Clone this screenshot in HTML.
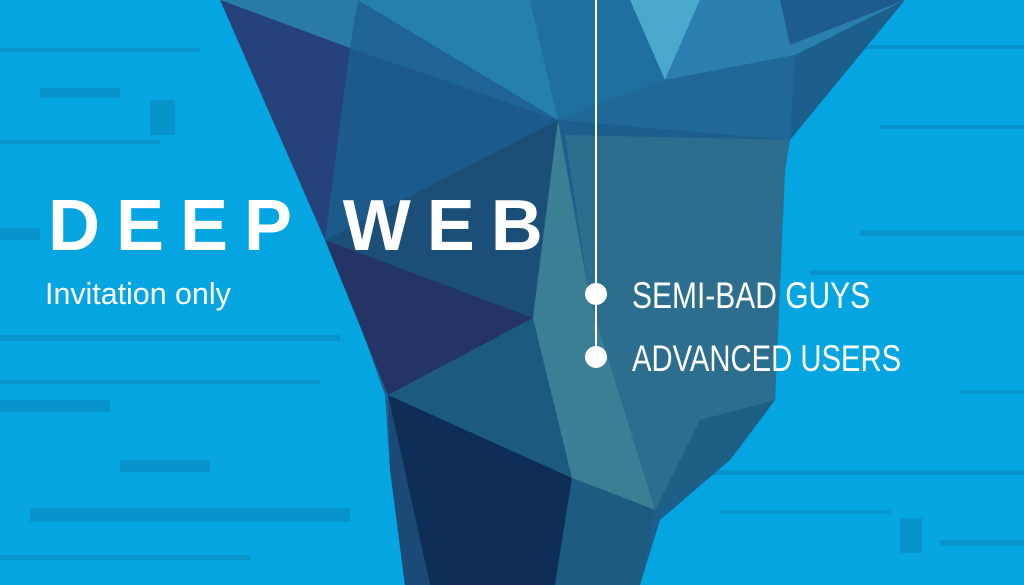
<!DOCTYPE html>
<html><head><style>
html,body{margin:0;padding:0}
body{width:1024px;height:585px;overflow:hidden;background:#05a5e2;position:relative;font-family:"Liberation Sans",sans-serif}
svg{position:absolute;left:0;top:0}
.t{position:absolute;color:#fff;white-space:nowrap;transform-origin:0 0}
</style></head><body>
<svg width="1024" height="585" viewBox="0 0 1024 585">
<g fill="#0a8fc8" opacity="0.8">
<rect x="0" y="48" width="200" height="4"/><rect x="40" y="88" width="80" height="10"/>
<rect x="150" y="100" width="25" height="35"/><rect x="0" y="140" width="160" height="4"/>
<rect x="0" y="228" width="40" height="12"/><rect x="0" y="335" width="340" height="6"/>
<rect x="0" y="380" width="320" height="4"/><rect x="0" y="400" width="110" height="12"/>
<rect x="120" y="460" width="90" height="12"/><rect x="30" y="508" width="320" height="14"/>
<rect x="0" y="555" width="250" height="5"/><rect x="800" y="45" width="224" height="4"/>
<rect x="880" y="125" width="144" height="4"/><rect x="860" y="230" width="164" height="6"/>
<rect x="810" y="270" width="214" height="5"/><rect x="960" y="390" width="64" height="4"/>
<rect x="700" y="470" width="324" height="5"/><rect x="900" y="518" width="22" height="35"/>
<rect x="720" y="510" width="170" height="4"/><rect x="940" y="540" width="84" height="6"/>
</g>
<polygon points="220,0 905,0 790,140 785,170 775,400 730,460 660,520 640,585 405,585 390,470 385,395 330,240" fill="#1d5f8c"/>
<polygon points="220,0 358,0 350,48" fill="#2a7aa8"/>
<polygon points="220,0 350,48 325,240" fill="#25427a"/>
<polygon points="350,48 558,120 325,240" fill="#1d5a8c"/>
<polygon points="358,0 558,120 350,48" fill="#1e6496"/>
<polygon points="358,0 530,0 558,120" fill="#2580b0"/>
<polygon points="530,0 640,0 665,80 558,120" fill="#1f6fa0"/>
<polygon points="630,0 700,0 665,80" fill="#4aa8cc"/>
<polygon points="700,0 905,0 795,55 665,80" fill="#2a7fb0"/>
<polygon points="780,0 905,0 790,45" fill="#1e5c8f"/>
<polygon points="558,120 665,80 795,55 790,140" fill="#1f6898"/>
<polygon points="565,135 790,140 785,170 775,400 730,460 655,510 590,300" fill="#2d6e8e"/>
<polygon points="558,120 533,318 325,240" fill="#1b4f78"/>
<polygon points="325,240 533,318 388,395" fill="#233465"/>
<polygon points="388,395 533,318 572,478" fill="#1d5a80"/>
<polygon points="558,120 590,300 655,510 572,478 533,318" fill="#3b7f95"/>
<polygon points="388,395 572,478 555,585 430,585" fill="#0f2e55"/>
<polygon points="388,395 430,585 405,585 390,470" fill="#1a4a75"/>
<polygon points="572,478 655,510 640,585 555,585" fill="#1d5b80"/>
<polygon points="775,400 730,460 655,510 700,420" fill="#1e5f85"/>
<line x1="596" y1="0" x2="596" y2="358" stroke="#fff" stroke-width="2"/>
<circle cx="596" cy="294" r="11" fill="#fff"/>
<circle cx="596" cy="357" r="11" fill="#fff"/>
</svg>
<div class="t" style="left:48px;top:186px;font-size:72px;font-weight:bold;letter-spacing:16px;line-height:80px">DEEP WEB</div>
<div class="t" style="left:45px;top:276px;font-size:31px;line-height:36px;transform:scaleX(0.98)">Invitation only</div>
<div class="t" style="left:632px;top:276px;font-size:37px;line-height:40px;transform:scaleX(0.81)">SEMI-BAD GUYS</div>
<div class="t" style="left:632px;top:339px;font-size:37px;line-height:40px;transform:scaleX(0.79)">ADVANCED USERS</div>
</body></html>
